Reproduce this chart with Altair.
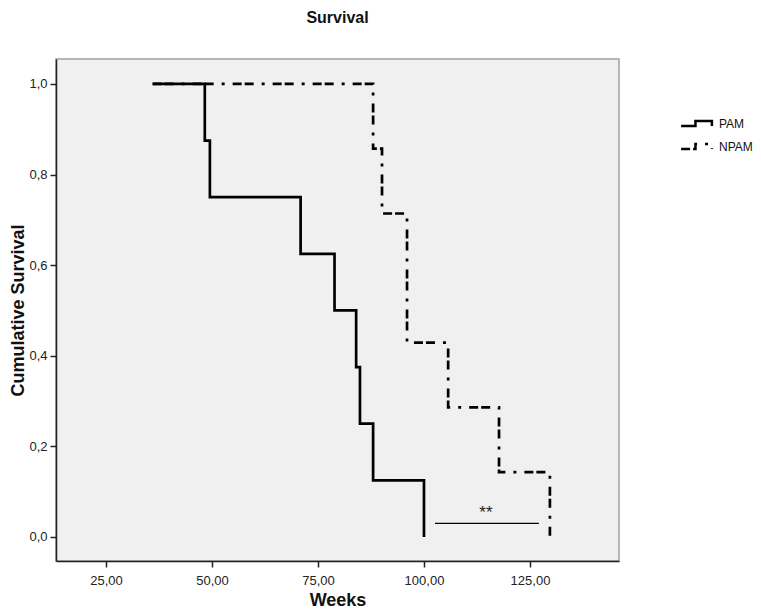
import altair as alt
import pandas as pd

# Kaplan-Meier step points (event times in weeks, survival after event)
pam_weeks = [36.0, 48.3, 49.5, 70.9, 78.9, 84.0, 84.9, 88.0, 100.0]
pam_surv = [1.0, 0.875, 0.75, 0.625, 0.5, 0.375, 0.25, 0.125, 0.0]
npam_weeks = [36.0, 88.0, 90.1, 96.0, 105.7, 117.7, 129.7]
npam_surv = [1.0, 0.857, 0.714, 0.429, 0.286, 0.143, 0.0]
groups = ["PAM", "NPAM"]

x_ticks = [25, 50, 75, 100, 125]
y_ticks = [0.0, 0.2, 0.4, 0.6, 0.8, 1.0]

sig_x = [102.6, 127.1]
sig_y = [0.03]
sig_text_x = [114.6]
sig_text_y = [0.052]
sig_label = ["**"]

rows = []
for w, s in zip(pam_weeks, pam_surv):
    rows.append({"weeks": w, "surv": s, "group": "PAM"})
for w, s in zip(npam_weeks, npam_surv):
    rows.append({"weeks": w, "surv": s, "group": "NPAM"})
df = pd.DataFrame(rows)

sig_df = pd.DataFrame({"x": [sig_x[0]], "x2": [sig_x[1]], "y": sig_y})
txt_df = pd.DataFrame({"x": sig_text_x, "y": sig_text_y, "t": sig_label})

xscale = alt.Scale(domain=[13.2, 146.0], nice=False, zero=False)
yscale = alt.Scale(domain=[-0.053, 1.055], nice=False, zero=False)

legend_path = "M-2.2,0.36 L-0.15,0.36 L-0.15,-0.36 L2.2,-0.36 L2.2,0.36"

lines = alt.Chart(df).mark_line(
    interpolate="step-after", color="black", strokeWidth=2.7
).encode(
    x=alt.X(
        "weeks:Q", scale=xscale,
        axis=alt.Axis(
            values=x_ticks, title="Weeks",
            labelExpr="replace(format(datum.value, '.2f'), '.', ',')",
        ),
    ),
    y=alt.Y(
        "surv:Q", scale=yscale,
        axis=alt.Axis(
            values=y_ticks, title="Cumulative Survival",
            labelExpr="replace(format(datum.value, '.1f'), '.', ',')",
        ),
    ),
    strokeDash=alt.StrokeDash(
        "group:N",
        scale=alt.Scale(domain=groups, range=[[1, 0], [9, 3, 9, 8, 3, 8]]),
        legend=alt.Legend(
            title=None, orient="none", legendX=632, legendY=56,
            symbolType=legend_path, symbolSize=196,
            symbolStrokeWidth=2.5, symbolStrokeColor="black",
            symbolFillColor="transparent",
            labelFont="Liberation Sans", labelFontSize=12, labelColor="#111",
            labelOffset=14, rowPadding=6, padding=0,
        ),
    ),
    order=alt.Order("weeks:Q"),
)

rule = alt.Chart(sig_df).mark_rule(color="black", strokeWidth=1.3).encode(
    x="x:Q", x2="x2:Q", y="y:Q"
)

txt = alt.Chart(txt_df).mark_text(
    font="Liberation Sans", fontSize=17, color="#222", baseline="middle"
).encode(x="x:Q", y="y:Q", text="t:N")

chart = alt.layer(lines, rule, txt).properties(
    width=563, height=502,
    title=alt.TitleParams(
        "Survival", font="Liberation Sans", fontSize=16, fontWeight="bold",
        color="#111", anchor="middle", offset=33,
    ),
    autosize=alt.AutoSizeParams(type="none"),
    padding={"left": 48, "top": 51, "right": 134, "bottom": 47},
    background="white",
).configure_view(
    fill="#F0F0F0", stroke="#a0a0a0", strokeWidth=1.5
).configure_axis(
    grid=False, domainColor="#222", domainWidth=1.5,
    tickColor="#222", tickSize=6, tickWidth=1.5,
    labelFont="Liberation Sans", labelFontSize=13, labelColor="#222",
    titleFont="Liberation Sans", titleFontSize=18, titleFontWeight="bold",
    titleColor="#111",
).configure_axisY(titlePadding=1, labelPadding=3).configure_axisX(
    titlePadding=4, labelPadding=7
)

chart.save("out.html", embed_options={"renderer": "svg", "actions": False})
